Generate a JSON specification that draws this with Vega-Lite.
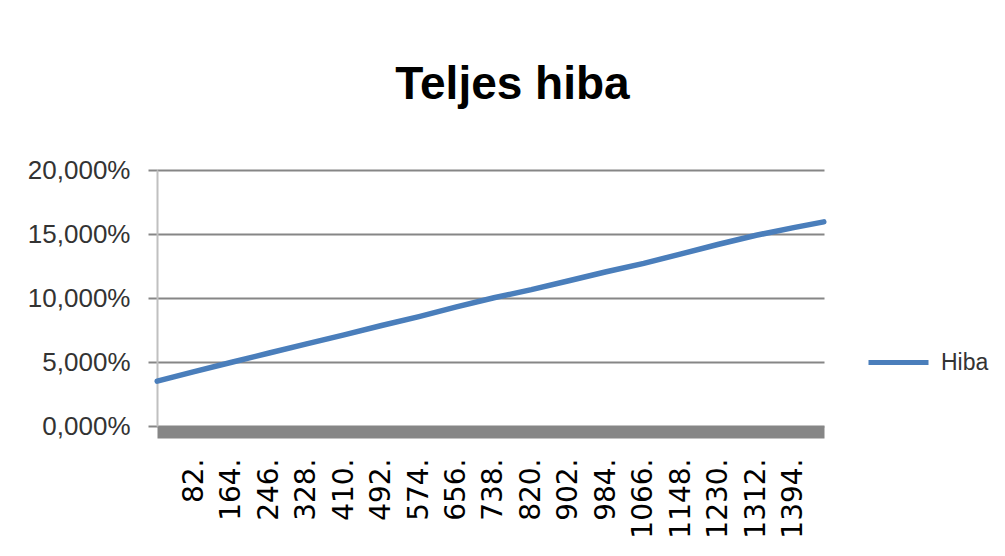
{
  "$schema": "https://vega.github.io/schema/vega-lite/v6.json",
  "width": 667,
  "height": 256,
  "autosize": {"type": "none"},
  "padding": {"left": 157, "top": 170, "right": 181, "bottom": 130},
  "background": "white",
  "config": {"view": {"stroke": null}},
  "title": {
    "text": "Teljes hiba",
    "font": "Liberation Sans",
    "fontWeight": "bold",
    "fontSize": 46,
    "color": "#000000",
    "anchor": "middle",
    "frame": "group",
    "dx": 22,
    "offset": 48
  },
  "data": {
    "values": [
      {"n": 1, "v": 3.5, "s": "Hiba"},
      {"n": 82, "v": 4.25, "s": "Hiba"},
      {"n": 164, "v": 4.98, "s": "Hiba"},
      {"n": 246, "v": 5.7, "s": "Hiba"},
      {"n": 328, "v": 6.42, "s": "Hiba"},
      {"n": 410, "v": 7.12, "s": "Hiba"},
      {"n": 492, "v": 7.85, "s": "Hiba"},
      {"n": 574, "v": 8.55, "s": "Hiba"},
      {"n": 656, "v": 9.3, "s": "Hiba"},
      {"n": 738, "v": 10.02, "s": "Hiba"},
      {"n": 820, "v": 10.65, "s": "Hiba"},
      {"n": 902, "v": 11.35, "s": "Hiba"},
      {"n": 984, "v": 12.05, "s": "Hiba"},
      {"n": 1066, "v": 12.7, "s": "Hiba"},
      {"n": 1148, "v": 13.45, "s": "Hiba"},
      {"n": 1230, "v": 14.2, "s": "Hiba"},
      {"n": 1312, "v": 14.9, "s": "Hiba"},
      {"n": 1394, "v": 15.5, "s": "Hiba"},
      {"n": 1460, "v": 15.95, "s": "Hiba"}
    ]
  },
  "mark": {"type": "line", "strokeWidth": 5.5, "strokeCap": "round", "clip": false},
  "encoding": {
    "x": {
      "field": "n",
      "type": "quantitative",
      "scale": {"domain": [0.5, 1460.5], "nice": false, "zero": false},
      "axis": {
        "title": null,
        "values": [82, 164, 246, 328, 410, 492, 574, 656, 738, 820, 902, 984, 1066, 1148, 1230, 1312, 1394],
        "labelExpr": "datum.value + '.'",
        "labelAngle": -90,
        "labelFont": "DejaVu Sans",
        "labelFontSize": 28,
        "labelColor": "#000000",
        "labelPadding": 26,
        "labelOverlap": false,
        "labelBound": false,
        "labelFlush": false,
        "ticks": false,
        "grid": false,
        "domainColor": "#868686",
        "domainWidth": 12,
        "offset": 6
      }
    },
    "y": {
      "field": "v",
      "type": "quantitative",
      "scale": {"domain": [0, 20], "nice": false},
      "axis": {
        "title": null,
        "values": [0, 5, 10, 15, 20],
        "labelExpr": "replace(format(datum.value, '.3f'), '.', ',') + '%'",
        "labelFont": "Liberation Sans",
        "labelFontSize": 26,
        "labelColor": "#333333",
        "labelPadding": 18,
        "tickSize": 9,
        "tickColor": "#868686",
        "tickWidth": 2,
        "domainColor": "#c0c0c0",
        "domainWidth": 2,
        "gridColor": "#868686",
        "gridWidth": 2
      }
    },
    "color": {
      "field": "s",
      "type": "nominal",
      "scale": {"range": ["#4a7ebb"]},
      "legend": {
        "title": null,
        "orient": "none",
        "legendX": 709,
        "legendY": 160,
        "symbolType": "stroke",
        "symbolSize": 3600,
        "symbolStrokeWidth": 5,
        "labelFont": "Liberation Sans",
        "labelFontSize": 23,
        "labelColor": "#333333",
        "labelOffset": 10
      }
    }
  }
}
